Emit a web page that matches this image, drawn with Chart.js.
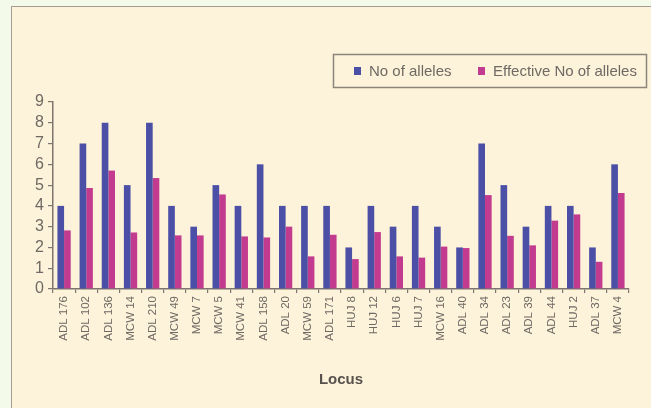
<!DOCTYPE html>
<html><head><meta charset="utf-8">
<script src="https://cdn.jsdelivr.net/npm/chart.js@4"></script>
<style>
html,body{margin:0;padding:0;background:#f4fae9;width:651px;height:408px;overflow:hidden}
#box{position:absolute;left:11px;top:6px;width:640px;height:402px;border-left:1px solid #a49d94;border-top:1px solid #a49d94;background:#fdf3da;box-sizing:border-box}
canvas{display:block}
</style></head><body>
<div id="box"><canvas id="c" width="639" height="401"></canvas></div>
<script>
const categories = ['ADL 176','ADL 102','ADL 136','MCW 14','ADL 210','MCW 49','MCW 7','MCW 5','MCW 41','ADL 158','ADL 20','MCW 59','ADL 171','HUJ 8','HUJ 12','HUJ 6','HUJ 7','MCW 16','ADL 40','ADL 34','ADL 23','ADL 39','ADL 44','HUJ 2','ADL 37','MCW 4'];
const allelesNo = [4,7,8,5,8,4,3,5,4,6,4,4,4,2,4,3,4,3,2,7,5,3,4,4,2,6];
const effectiveNo = [2.82,4.86,5.7,2.72,5.34,2.58,2.58,4.55,2.53,2.48,3.0,1.57,2.61,1.44,2.74,1.57,1.51,2.04,1.97,4.52,2.56,2.1,3.29,3.59,1.31,4.62];
const seriesLabels = ['No of alleles','Effective No of alleles'];
const yMin = 0, yMax = 9, yStep = 1;
const xTitle = 'Locus';

const FONT = '"Liberation Sans", Arial, sans-serif';
const AXIS = '#7d756e';

const boxLegend = {
  id: 'boxLegend',
  afterDraw(chart) {
    const ctx = chart.ctx;
    ctx.save();
    ctx.strokeStyle = '#8d847c';
    ctx.lineWidth = 1.5;
    ctx.strokeRect(321.5, 47.5, 313, 33);
    ctx.font = '15px ' + FONT;
    ctx.textBaseline = 'middle';
    ctx.textAlign = 'left';
    const xs = [342, 466];
    chart.data.datasets.forEach((ds, i) => {
      ctx.fillStyle = ds.backgroundColor;
      ctx.fillRect(xs[i], 60, 7, 8);
      ctx.fillStyle = '#6f6964';
      ctx.fillText(ds.label, xs[i] + 15, 64.5);
    });
    ctx.restore();
  }
};

new Chart(document.getElementById('c'), {
  type: 'bar',
  data: {
    labels: categories,
    datasets: [
      {label: seriesLabels[0], data: allelesNo, backgroundColor: '#4b4fa6'},
      {label: seriesLabels[1], data: effectiveNo, backgroundColor: '#c23b8f'}
    ]
  },
  options: {
    responsive: false,
    animation: false,
    layout: {padding: {top: 95, right: 22, left: 0, bottom: 0}},
    datasets: {bar: {categoryPercentage: 0.6, barPercentage: 1.0}},
    plugins: {legend: {display: false}, tooltip: {enabled: false}},
    scales: {
      x: {
        grid: {display: true, drawOnChartArea: false, drawTicks: true, tickLength: 4, color: AXIS, lineWidth: 1.2},
        border: {display: true, color: AXIS, width: 1.5},
        ticks: {minRotation: 90, maxRotation: 90, autoSkip: false, padding: 3, color: '#6f6964', font: {family: FONT, size: 11.5}},
        title: {display: true, text: xTitle, color: '#58524e', font: {family: FONT, size: 15, weight: 'bold'}, padding: {top: 4, bottom: 19}},
        afterFit(scale) { scale.height = 119; }
      },
      y: {
        min: yMin, max: yMax,
        grid: {display: true, drawOnChartArea: false, drawTicks: true, tickLength: 5, color: AXIS, lineWidth: 1.2},
        border: {display: true, color: AXIS, width: 1.5},
        ticks: {stepSize: yStep, autoSkip: false, padding: 4, color: '#6f6964', font: {family: FONT, size: 16}},
        afterFit(scale) { scale.width = 41; }
      }
    }
  },
  plugins: [boxLegend]
});
</script>
</body></html>
